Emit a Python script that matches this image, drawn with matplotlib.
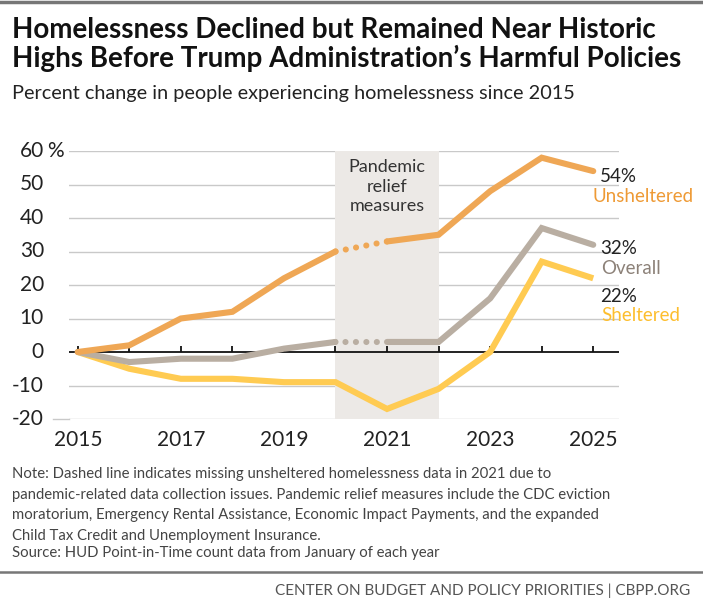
import matplotlib
matplotlib.use("Agg")
import matplotlib.pyplot as plt
import numpy as np
from matplotlib.lines import Line2D

plt.rcParams['font.family'] = ['Lato', 'DejaVu Sans']

# ---------------- data ----------------
years = [2015, 2016, 2017, 2018, 2019, 2020, 2021, 2022, 2023, 2024, 2025]
unsheltered = [0, 2, 10, 12, 22, 30, 33, 35, 48, 58, 54]
overall = [0, -3, -2, -2, 1, 3, 3, 3, 16, 37, 32]
sheltered = [0, -5, -8, -8, -9, -9, -17, -11, 0, 27, 22]
missing_year = 2021          # unsheltered data missing -> dotted segment
yticks = [-20, -10, 0, 10, 20, 30, 40, 50, 60]
xlabels = [2015, 2017, 2019, 2021, 2023, 2025]
pandemic = (2020, 2022)
end_labels = [("54%", "Unsheltered"), ("32%", "Overall"), ("22%", "Sheltered")]

# ---------------- style ----------------
C_UNS = "#EFA755"
C_OVR = "#B9AEA2"
C_SHE = "#FFCB52"
C_UNS_T = "#EE9A35"
C_OVR_T = "#8C8178"
C_SHE_T = "#FDBE2E"
SHADE = "#ECE9E6"
GRID = "#C9C9C9"
TXT = "#222222"
LW = 4.4

W, H = 703, 603
fig = plt.figure(figsize=(W / 100, H / 100), dpi=100)

def fx(px):
    return px / W

def fy(py):
    return 1 - py / H

ax_l, ax_r, ax_t, ax_b = 69, 619, 151, 419
ax = fig.add_axes([fx(ax_l), fy(ax_b), fx(ax_r - ax_l), (ax_b - ax_t) / H])
ax.set_xlim(2014.83, 2025.5)
ax.set_ylim(-20, 60)
ax.axis("off")

# grid lines
for v in yticks:
    if v == 0:
        continue
    ax.axhline(v, color=GRID, lw=1.0, zorder=1)
# -20 gridline extends further left
ax.plot([2014.52, 2014.83], [-20, -20], color=GRID, lw=1.0, clip_on=False, zorder=1)

# pandemic shading
ax.axvspan(pandemic[0], pandemic[1], ymin=0, ymax=1, color=SHADE, zorder=1.5, lw=0)
ax.text((pandemic[0] + pandemic[1]) / 2, 49.4, "Pandemic\nrelief\nmeasures",
        ha="center", va="center", fontsize=13, color="#333333", linespacing=1.3,
        zorder=3, bbox=dict(facecolor=SHADE, edgecolor="none", pad=3))

# zero axis with ticks
ax.axhline(0, color="#111111", lw=1.3, zorder=2)
for yr in years:
    ax.plot([yr, yr], [0, 1.9], color="#111111", lw=1.3, zorder=2, solid_capstyle="butt")

years_a = np.array(years)

def draw_series(vals, color, dotted):
    vals = np.array(vals, dtype=float)
    if dotted:
        i = years.index(missing_year)
        ax.plot(years_a[:i], vals[:i], color=color, lw=LW, zorder=4,
                solid_capstyle="round", solid_joinstyle="miter")
        ax.plot(years_a[i:], vals[i:], color=color, lw=LW, zorder=4,
                solid_capstyle="round", solid_joinstyle="miter")
        ax.plot(years_a[i - 1:i + 1], vals[i - 1:i + 1], color=color, lw=LW, zorder=4,
                linestyle=(0, (0.01, 1.7)), dash_capstyle="round")
    else:
        ax.plot(years_a, vals, color=color, lw=LW, zorder=4,
                solid_capstyle="butt", solid_joinstyle="miter")

draw_series(sheltered, C_SHE, False)
draw_series(overall, C_OVR, True)
draw_series(unsheltered, C_UNS, True)

# y tick labels
for v in yticks:
    py = ax_b - (v + 20) / 80 * (ax_b - ax_t)
    fig.text(fx(44), fy(py), str(v), ha="right", va="center", fontsize=15, color=TXT)
    if v == 60:
        fig.text(fx(47), fy(py), "%", ha="left", va="center", fontsize=15, color=TXT)

# x tick labels
for yr in xlabels:
    ax.text(yr, -23.2, str(yr), ha="center", va="top", fontsize=15, color=TXT)

# end labels
lbl_pos = [(177, 197), (248, 268), (296, 316)]
lbl_x = [(600, 592), (600, 601), (600, 601)]
lbl_cols = [C_UNS_T, C_OVR_T, C_SHE_T]
for (pct, name), (y1, y2), (x1, x2), col in zip(end_labels, lbl_pos, lbl_x, lbl_cols):
    fig.text(fx(x1), fy(y1), pct, ha="left", va="center", fontsize=13.5, color=TXT)
    fig.text(fx(x2), fy(y2), name, ha="left", va="center", fontsize=13.5, color=col)

# title & subtitle
fig.text(fx(12), fy(30), "Homelessness Declined but Remained Near Historic",
         ha="left", va="center", fontsize=20, fontweight="bold", color="#111111")
fig.text(fx(12), fy(58), "Highs Before Trump Administration\u2019s Harmful Policies",
         ha="left", va="center", fontsize=20, fontweight="bold", color="#111111")
fig.text(fx(12), fy(94), "Percent change in people experiencing homelessness since 2015",
         ha="left", va="center", fontsize=14.3, color="#222222")

# note
note = ("Note: Dashed line indicates missing unsheltered homelessness data in 2021 due to\n"
        "pandemic-related data collection issues. Pandemic relief measures include the CDC eviction\n"
        "moratorium, Emergency Rental Assistance, Economic Impact Payments, and the expanded\n"
        "Child Tax Credit and Unemployment Insurance.")
fig.text(fx(12), fy(467), note, ha="left", va="top", fontsize=10.7, color="#444444",
         linespacing=1.6)
fig.text(fx(12), fy(553), "Source: HUD Point-in-Time count data from January of each year",
         ha="left", va="center", fontsize=10.7, color="#444444")

# top bar and bottom rule
fig.add_artist(Line2D([0, 1], [fy(1.5), fy(1.5)], color="#777777", lw=2.5))
fig.add_artist(Line2D([0, 1], [fy(572), fy(572)], color="#777777", lw=1.8))
fig.text(fx(690), fy(591), "CENTER ON BUDGET AND POLICY PRIORITIES | CBPP.ORG",
         ha="right", va="center", fontsize=11, color="#555555")

fig.savefig("out.png", dpi=100)
